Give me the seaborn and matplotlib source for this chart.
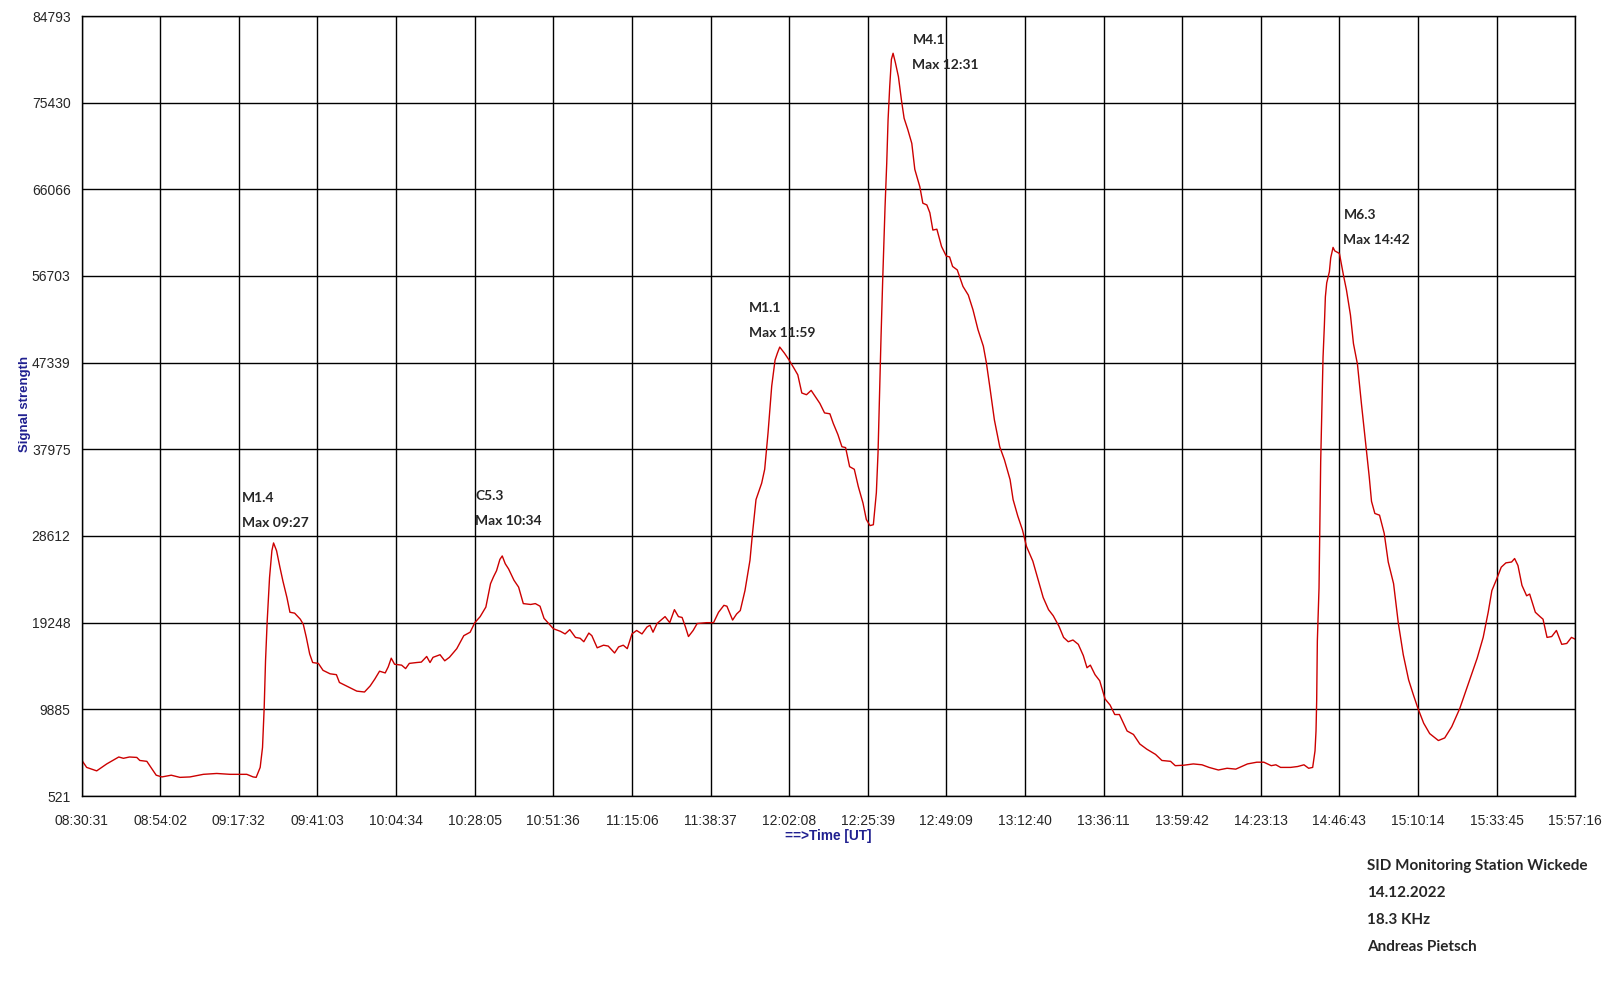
import matplotlib
matplotlib.use("Agg")
import matplotlib.pyplot as plt
from matplotlib.ticker import AutoMinorLocator
import pandas as pd
import seaborn as sns

# SID recording 14.12.2022, 18.3 kHz
# time is minutes after 08:30:31 UT
minutes = [0.0, 1.5, 4.5, 7.5, 11.1, 12.5, 14.3, 16.5, 17.4, 19.5, 22.3, 24.0, 26.8, 29.4,
           32.4, 36.4, 40.4, 44.4, 49.4, 51.3, 52.2, 53.4, 54.1, 54.6, 55.0, 55.5, 56.2,
           56.9, 57.4, 58.3, 59.3, 60.2, 61.4, 62.3, 63.7, 65.4, 66.3, 67.2, 68.2, 69.1,
           70.8, 72.2, 74.3, 76.2, 77.1, 79.2, 82.3, 84.6, 86.3, 87.7, 89.1, 90.8, 91.7,
           92.6, 93.6, 95.7, 96.9, 98.0, 100.2, 101.6, 103.2, 104.2, 105.1, 107.2, 108.6,
           110.0, 112.2, 114.3, 116.2, 117.6, 119.2, 120.9, 122.3, 123.2, 124.1, 125.1,
           125.8, 126.7, 127.7, 129.3, 130.7, 132.1, 134.3, 135.7, 137.1, 138.3, 139.7,
           141.1, 143.2, 144.6, 146.0, 147.7, 149.1, 150.2, 151.7, 152.6, 154.2, 156.1,
           157.5, 159.4, 160.6, 162.0, 163.2, 164.6, 166.0, 167.6, 169.1, 170.0, 170.9,
           172.1, 174.5, 175.9, 177.3, 178.5, 179.6, 180.6, 181.5, 182.9, 184.1, 186.9,
           189.0, 190.5, 192.1, 193.0, 194.7, 195.9, 197.0, 198.4, 199.9, 200.6, 201.7,
           203.4, 204.3, 205.3, 206.4, 207.4, 208.1, 208.8, 210.2, 211.6, 213.0, 214.2,
           215.4, 216.8, 218.2, 219.4, 220.8, 222.2, 223.8, 224.8, 226.2, 227.4, 228.5,
           229.7, 231.1, 232.3, 233.7, 234.7, 235.8, 236.8, 237.7, 238.2, 238.7, 239.1,
           239.6, 240.3, 240.8, 241.2, 241.7, 242.2, 242.7, 243.4, 244.3, 245.2, 246.0,
           247.1, 248.3, 249.2, 250.7, 251.6, 252.8, 253.7, 254.6, 255.8, 257.2, 258.6,
           259.6, 260.5, 261.9, 263.6, 265.2, 266.6, 268.1, 269.7, 270.6, 271.6, 273.0,
           274.6, 276.0, 277.7, 278.6, 280.0, 281.4, 282.6, 284.5, 286.2, 287.6, 289.2,
           290.6, 292.3, 293.7, 295.1, 296.5, 298.1, 299.6, 300.7, 301.7, 303.1, 304.5,
           306.1, 307.6, 309.0, 310.4, 311.5, 312.7, 314.6, 316.5, 318.6, 321.2, 323.1,
           325.7, 327.1, 329.6, 332.5, 335.1, 337.2, 340.0, 342.6, 345.2, 348.7, 351.5,
           353.6, 355.8, 357.2, 358.6, 361.6, 363.7, 365.6, 367.0, 368.2, 368.9, 369.2,
           369.4, 369.6, 370.1, 370.3, 370.6, 371.0, 371.3, 371.7, 372.0, 372.4, 373.2,
           373.6, 374.3, 374.8, 376.2, 377.4, 378.3, 379.5, 380.4, 381.6, 382.8, 384.2,
           385.1, 385.8, 386.8, 388.2, 389.6, 390.8, 392.4, 393.8, 395.3, 396.9, 398.3,
           399.7, 401.4, 403.2, 405.8, 407.7, 409.8, 412.2, 414.8, 417.4, 419.2, 420.7,
           421.8, 423.2, 424.6, 426.0, 427.7, 428.6, 429.6, 430.8, 432.2, 433.1, 434.8,
           436.2, 437.1, 438.3, 439.7, 441.1, 442.7, 444.2, 445.6, 446.7]

signal = [4407, 3611, 3236, 3986, 4735, 4594, 4735, 4688, 4360, 4266, 2768, 2581, 2768, 2534,
          2581, 2862, 2955, 2862, 2862, 2581, 2534, 3611, 5765, 10072, 15128, 19435, 24117,
          27020, 27863, 27020, 25241, 23743, 21964, 20372, 20278, 19623, 19061, 17656, 15877,
          14941, 14847, 14098, 13724, 13630, 12787, 12413, 11851, 11757, 12413, 13162, 14005,
          13817, 14473, 15409, 14754, 14660, 14286, 14847, 14941, 14988, 15596, 14941, 15503,
          15784, 15128, 15503, 16439, 17844, 18218, 19248, 19903, 20933, 23462, 24211, 24866,
          26083, 26458, 25615, 25053, 23836, 23087, 21308, 21214, 21308, 21027, 19716, 19154,
          18593, 18312, 18031, 18499, 17656, 17563, 17188, 18124, 17844, 16532, 16814, 16720,
          15971, 16626, 16814, 16439, 18031, 18405, 18031, 18780, 18967, 18218, 19154, 19903,
          19248, 20653, 19903, 19810, 18780, 17750, 18405, 19154, 19248, 19248, 20372, 21121,
          21027, 19529, 20184, 20559, 22713, 25990, 28705, 32544, 34323, 35822, 39754, 44811,
          47620, 48369, 49024, 48369, 47620, 46777, 46028, 44062, 43875, 44343, 43688, 42939,
          41909, 41815, 40785, 39568, 38257, 38163, 36103, 35822, 33950, 32171, 30392, 29736,
          29830, 33294, 37601, 44811, 50148, 56328, 64193, 68875, 73557, 77209, 80111, 80767,
          79737, 78239, 75710, 73744, 72527, 71029, 68220, 66347, 64568, 64380, 63538, 61665,
          61759, 59886, 58856, 58763, 57733, 57358, 55579, 54643, 53051, 50897, 49118, 47339,
          44811, 41159, 38257, 36852, 34698, 32544, 30765, 29267, 27488, 25896, 23743, 21964,
          20653, 19997, 18873, 17656, 17188, 17375, 16907, 15690, 14379, 14660, 13630, 12974,
          11008, 10353, 9323, 9323, 8480, 7544, 7169, 6139, 5577, 5016, 4360, 4266, 3798,
          3845, 3986, 3892, 3611, 3330, 3517, 3424, 3986, 4173, 4173, 3798, 3892, 3611, 3611,
          3705, 3892, 3517, 3611, 5390, 7544, 10821, 17282, 22994, 28612, 36665, 42845, 47901,
          51365, 54455, 55953, 57171, 58669, 59792, 59418, 59137, 56797, 55205, 52489, 49399,
          47152, 42845, 38163, 35073, 32357, 31046, 30860, 28893, 25803, 23462, 19248, 15784,
          13068, 11476, 9978, 8387, 7263, 6514, 6795, 8012, 9978, 12694, 15409, 17656, 20372,
          22713, 23930, 25241, 25709, 25803, 26177, 25428, 23275, 22151, 22338, 20372, 19903,
          19623, 17656, 17750, 18405, 16907, 17001, 17656, 17469]

time_labels = ['08:30:31', '08:54:02', '09:17:32', '09:41:03', '10:04:34', '10:28:05',
               '10:51:36', '11:15:06', '11:38:37', '12:02:08', '12:25:39', '12:49:09',
               '13:12:40', '13:36:11', '13:59:42', '14:23:13', '14:46:43', '15:10:14',
               '15:33:45', '15:57:16']
level_ticks = [521, 9885, 19248, 28612, 37975, 47339, 56703, 66066, 75430, 84793]

flare_class = ['M1.4', 'C5.3', 'M1.1', 'M4.1', 'M6.3']
flare_max = ['09:27', '10:34', '11:59', '12:31', '14:42']

footer = ['SID Monitoring Station Wickede', '14.12.2022', '18.3 KHz', 'Andreas Pietsch']


def to_minutes(s):
    h, m, sec = (int(p) for p in s.split(':'))
    return (h * 3600 + m * 60 + sec - (8 * 3600 + 30 * 60 + 31)) / 60.0


df = pd.DataFrame({'minutes': minutes, 'signal': signal})
tick_pos = [to_minutes(t) for t in time_labels]

sns.set_style("white")
plt.rcParams['font.family'] = ['Liberation Sans', 'DejaVu Sans']

fig = plt.figure(figsize=(16.04, 10), dpi=100)
ax = fig.add_axes([0.0509, 0.204, 0.9312, 0.780])

sns.lineplot(data=df, x='minutes', y='signal', color='#cc0000', linewidth=1.0, ax=ax)

ax.set_xlim(tick_pos[0], tick_pos[-1])
ax.set_ylim(level_ticks[0], level_ticks[-1])
ax.set_xticks(tick_pos)
ax.set_xticklabels(time_labels, fontsize=10)
ax.set_yticks(level_ticks)
ax.set_yticklabels([str(v) for v in level_ticks], fontsize=10)
ax.xaxis.set_minor_locator(AutoMinorLocator(6))
ax.yaxis.set_minor_locator(AutoMinorLocator(5))
ax.tick_params(axis='x', which='major', direction='out', length=5, width=1, color='black', pad=8)
ax.tick_params(axis='x', which='minor', direction='out', length=2.5, width=1, color='black')
ax.tick_params(axis='y', which='major', direction='out', length=2, width=1, color='black', pad=6)
ax.tick_params(axis='y', which='minor', direction='out', length=3, width=1, color='black')
ax.grid(True, which='major', color='black', linewidth=1.0)
for sp in ax.spines.values():
    sp.set_color('black')
    sp.set_linewidth(1.0)

ax.set_xlabel('==>Time [UT]', fontsize=9.8, fontweight='bold', color='#202090', va='center')
ax.xaxis.set_label_coords(0.4997, -0.0513)
ax.set_ylabel('Signal strength', fontsize=9.5, fontweight='bold', color='#202090', va='center')
ax.yaxis.set_label_coords(-0.0378, 0.5026)

# flare labels: anchor of the first line in data units
label_x = [48.0, 117.8, 199.6, 248.5, 377.4]
label_y = [32705, 32921, 53193, 82245, 63345]
for name, tmax, lx, ly in zip(flare_class, flare_max, label_x, label_y):
    ax.text(lx, ly, name, fontsize=10, fontweight='bold', family='Lato', va='center', ha='left')
    ax.annotate('Max ' + tmax, (lx, ly), xytext=(0, -18), textcoords='offset points',
                fontsize=10, fontweight='bold', family='Lato', va='center', ha='left')

for i, line in enumerate(footer):
    fig.text(0.852, 0.134 - i * 0.0269, line, fontsize=11, fontweight='bold',
             family='Lato', va='center', ha='left')

fig.savefig('out.png', dpi=100)
